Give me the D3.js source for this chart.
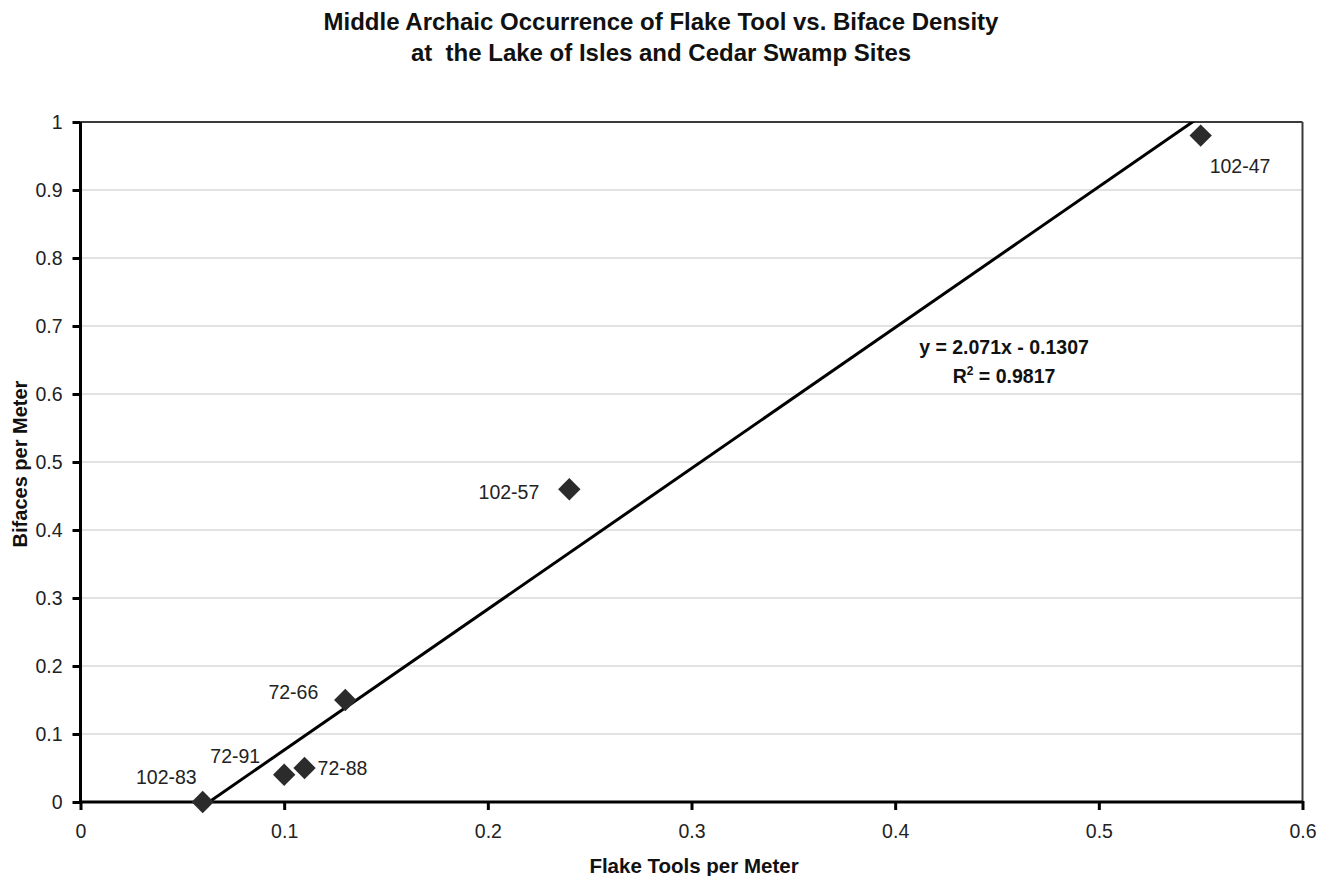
<!DOCTYPE html>
<html><head><meta charset="utf-8">
<script src="https://cdn.jsdelivr.net/npm/d3@7"></script>
<style>body{margin:0;background:#fff;} text{font-family:"Liberation Sans",Arial,sans-serif;}</style>
</head><body>
<svg id="c" width="1326" height="876"></svg>
<script>
const sites = ["102-83","72-91","72-88","72-66","102-57","102-47"];
const flakeTools = [0.06,0.10,0.11,0.13,0.24,0.55];
const bifaces = [0.00,0.04,0.05,0.15,0.46,0.98];
const xTicks = [0,0.1,0.2,0.3,0.4,0.5,0.6];
const yTicks = [0,0.1,0.2,0.3,0.4,0.5,0.6,0.7,0.8,0.9,1];
const slope = 2.071, intercept = -0.1307, r2 = 0.9817;
const titleLines = ["Middle Archaic Occurrence of Flake Tool vs. Biface Density","at  the Lake of Isles and Cedar Swamp Sites"];

const svg = d3.select("#c");
const L=80.5, R=1302.5, T=122, B=802;
const x = d3.scaleLinear().domain([0,0.6]).range([L,R]);
const y = d3.scaleLinear().domain([0,1]).range([B,T]);

// title
svg.selectAll(".title").data(titleLines).join("text")
  .attr("x",661).attr("y",(d,i)=>30+i*31).attr("text-anchor","middle")
  .style("white-space","pre")
  .attr("font-weight","bold").attr("font-size",24).attr("fill","#111").text(d=>d);

// gridlines
svg.append("g").selectAll("line").data(yTicks.filter(v=>v>0&&v<1)).join("line")
  .attr("x1",L).attr("x2",R).attr("y1",d=>y(d)).attr("y2",d=>y(d))
  .attr("stroke","#d9d9d9").attr("stroke-width",1.3);

// top and right border
svg.append("line").attr("x1",L).attr("x2",R).attr("y1",T).attr("y2",T).attr("stroke","#3a3a3a").attr("stroke-width",2);
svg.append("line").attr("x1",R).attr("x2",R).attr("y1",T).attr("y2",B).attr("stroke","#3a3a3a").attr("stroke-width",2);

// axes
const xAxis = svg.append("g").attr("transform",`translate(0,${B})`)
  .call(d3.axisBottom(x).tickValues(xTicks).tickFormat(d3.format("")).tickSize(8).tickPadding(14));
const yAxis = svg.append("g").attr("transform",`translate(${L},0)`)
  .call(d3.axisLeft(y).tickValues(yTicks).tickFormat(d3.format("")).tickSize(8).tickPadding(10));
[xAxis,yAxis].forEach(g=>{
  g.select(".domain").attr("stroke","#000").attr("stroke-width",3);
  g.selectAll(".tick line").attr("stroke","#000").attr("stroke-width",3);
  g.selectAll(".tick text").attr("font-size",19.5).attr("fill","#222")
   .attr("font-family","'Liberation Sans',Arial,sans-serif");
});
xAxis.select(".domain").attr("d",`M${L},0H${R}`);
yAxis.select(".domain").attr("d",`M0,${B}V${T}`);
xAxis.selectAll(".tick line").attr("y1",-1);

// axis titles
svg.append("text").attr("x",694).attr("y",873).attr("text-anchor","middle")
  .attr("font-weight","bold").attr("font-size",20.5).attr("fill","#111").text("Flake Tools per Meter");
svg.append("text").attr("transform",`translate(27,${(T+B)/2+2}) rotate(-90)`).attr("text-anchor","middle")
  .attr("font-weight","bold").attr("font-size",20).attr("fill","#111").text("Bifaces per Meter");

// trendline clipped
svg.append("clipPath").attr("id","pc").append("rect").attr("x",L).attr("y",T).attr("width",R-L).attr("height",B-T);
const x0 = d3.min(flakeTools), x1 = d3.max(flakeTools);
svg.append("line").attr("clip-path","url(#pc)")
  .attr("x1",x(x0)).attr("y1",y(slope*x0+intercept)).attr("x2",x(x1)).attr("y2",y(slope*x1+intercept))
  .attr("stroke","#000").attr("stroke-width",3);

// points
const data = sites.map((s,i)=>({s,x:flakeTools[i],y:bifaces[i]}));
svg.append("g").selectAll("path").data(data).join("path")
  .attr("d",d3.symbol().type(d3.symbolSquare).size(250))
  .attr("transform",d=>`translate(${x(d.x)},${y(d.y)}) rotate(45)`)
  .attr("fill","#2b2b2b");

// labels: [dx, dy(baseline), anchor]
const labelOff = {"102-83":[-6,-18,"end"],"72-91":[-24,-12,"end"],"72-88":[13,7,"start"],"72-66":[-27,-1,"end"],"102-57":[-30,10,"end"],"102-47":[9,37,"start"]};
svg.append("g").selectAll("text").data(data).join("text")
  .attr("x",d=>x(d.x)+labelOff[d.s][0]).attr("y",d=>y(d.y)+labelOff[d.s][1])
  .attr("text-anchor",d=>labelOff[d.s][2]).attr("font-size",19.5).attr("fill","#222").text(d=>d.s);

// equation
const eq = svg.append("g").attr("font-weight","bold").attr("font-size",19.5).attr("fill","#111");
eq.append("text").attr("x",1004).attr("y",354).attr("text-anchor","middle")
  .text(`y = ${slope}x - ${Math.abs(intercept)}`);
const rt = eq.append("text").attr("x",1004).attr("y",383).attr("text-anchor","middle");
rt.append("tspan").text("R");
rt.append("tspan").attr("font-size",12).attr("dy",-8).text("2");
rt.append("tspan").attr("dy",8).text(` = ${r2}`);
</script>
</body></html>
